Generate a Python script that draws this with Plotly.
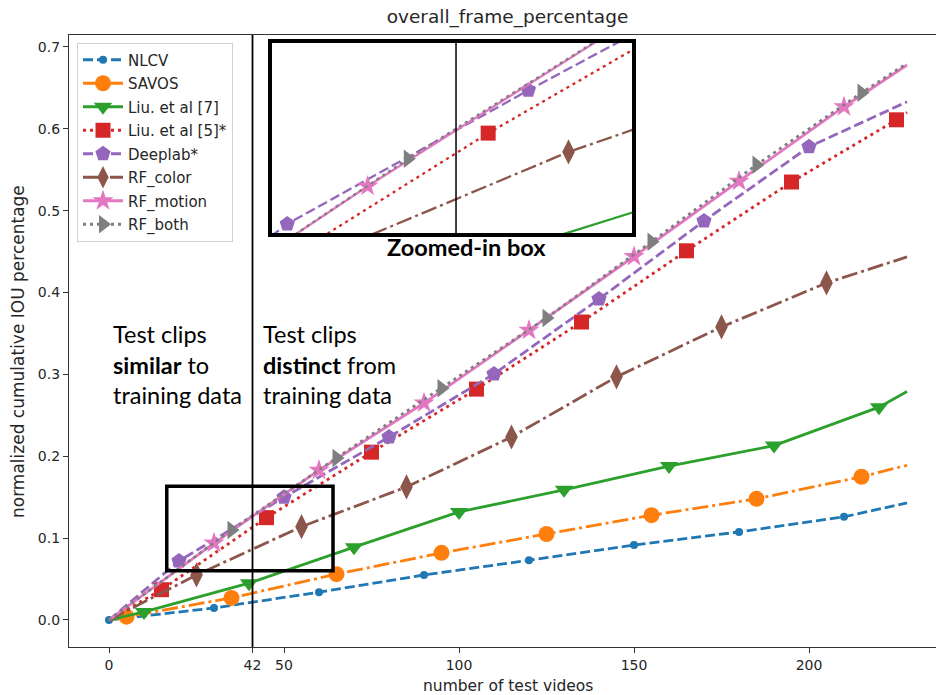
import plotly.graph_objects as go

# ---------------- data ----------------
series_names = ["NLCV", "SAVOS", "Liu. et al [7]", "Liu. et al [5]*", "Deeplab*",
                "RF_color", "RF_motion", "RF_both"]

nlcv_x = [0, 30, 60, 90, 120, 150, 180, 210, 228]
nlcv_y = [0, 0.0147, 0.034, 0.055, 0.073, 0.0916, 0.1075, 0.126, 0.143]
nlcv_mk = [0, 1, 2, 3, 4, 5, 6, 7]

savos_x = [0, 5, 35, 65, 95, 125, 155, 185, 215, 228]
savos_y = [0, 0.004, 0.027, 0.056, 0.082, 0.105, 0.128, 0.148, 0.175, 0.189]
savos_mk = [1, 2, 3, 4, 5, 6, 7, 8]

liu7_x = [0, 10, 40, 70, 100, 130, 160, 190, 220, 228]
liu7_y = [0, 0.0098, 0.045, 0.089, 0.132, 0.159, 0.188, 0.213, 0.26, 0.279]
liu7_mk = [1, 2, 3, 4, 5, 6, 7, 8]

liu5_x = [0, 15, 45, 75, 105, 135, 165, 195, 225, 228]
liu5_y = [0, 0.037, 0.125, 0.205, 0.282, 0.364, 0.451, 0.535, 0.611, 0.62]
liu5_mk = [1, 2, 3, 4, 5, 6, 7, 8]

deeplab_x = [0, 20, 50, 80, 110, 140, 170, 200, 228]
deeplab_y = [0, 0.072, 0.15, 0.2235, 0.3005, 0.392, 0.4875, 0.578, 0.633]
deeplab_mk = [1, 2, 3, 4, 5, 6, 7]

rfcolor_x = [0, 25, 55, 85, 115, 145, 175, 205, 228]
rfcolor_y = [0, 0.055, 0.114, 0.1625, 0.2235, 0.297, 0.358, 0.4117, 0.4435]
rfcolor_mk = [1, 2, 3, 4, 5, 6, 7]

rfmotion_x = [0, 30, 60, 90, 120, 150, 180, 210, 228]
rfmotion_y = [0, 0.094, 0.183, 0.265, 0.354, 0.444, 0.536, 0.627, 0.678]
rfmotion_mk = [1, 2, 3, 4, 5, 6, 7]

rfboth_x = [0, 35, 65, 95, 125, 155, 185, 215, 228]
rfboth_y = [0, 0.110, 0.198, 0.283, 0.369, 0.462, 0.556, 0.644, 0.68]
rfboth_mk = [1, 2, 3, 4, 5, 6, 7]

split_x = 41          # vertical split line (labelled "42" on the axis)
x_tick_vals = [0, split_x, 50, 100, 150, 200]
x_tick_text = ["0", "42", "50", "100", "150", "200"]
y_tick_vals = [0.0, 0.1, 0.2, 0.3, 0.4, 0.5, 0.6, 0.7]

# zoom box region (data units) and inset view
box_x = [16.5, 64.0]
box_y = [0.0600, 0.1635]
inset_x = [18.1, 62.9]
inset_y = [0.0667, 0.1776]

# ---------------- styles ----------------
styles = [
    dict(color="#1f77b4", dash="10px,4px", symbol="circle", size=8),
    dict(color="#ff7f0e", dash="16px,4px,3px,4px", symbol="circle", size=16),
    dict(color="#2ca02c", dash="solid", symbol="triangle-down", size=16),
    dict(color="#d62728", dash="3px,4px", symbol="square", size=15),
    dict(color="#9467bd", dash="10px,4px", symbol="pentagon", size=16),
    dict(color="#8c564b", dash="16px,4px,3px,4px", symbol="diamond-tall", size=18),
    dict(color="#e377c2", dash="solid", symbol="star", size=16),
    dict(color="#7f7f7f", dash="3px,4px", symbol="triangle-right", size=16),
]

data = [
    (nlcv_x, nlcv_y, nlcv_mk),
    (savos_x, savos_y, savos_mk),
    (liu7_x, liu7_y, liu7_mk),
    (liu5_x, liu5_y, liu5_mk),
    (deeplab_x, deeplab_y, deeplab_mk),
    (rfcolor_x, rfcolor_y, rfcolor_mk),
    (rfmotion_x, rfmotion_y, rfmotion_mk),
    (rfboth_x, rfboth_y, rfboth_mk),
]

W, H = 936, 695
ML, MR, MT, MB = 69, 0, 35, 48
PW, PH = W - ML - MR, H - MT - MB


def pxx(p):
    return (p - ML) / PW


def pxy(p):
    return (H - MB - p) / PH


fig = go.Figure()

for (xs, ys, mk), st, name in zip(data, styles, series_names):
    mx = [xs[i] for i in mk]
    my = [ys[i] for i in mk]
    for xa, ya, lw in (("x", "y", 2.8), ("x2", "y2", 2.3)):
        fig.add_trace(go.Scatter(x=xs, y=ys, mode="lines", xaxis=xa, yaxis=ya,
                                 line=dict(color=st["color"], width=lw, dash=st["dash"]),
                                 showlegend=False, hoverinfo="skip"))
        fig.add_trace(go.Scatter(x=mx, y=my, mode="markers", xaxis=xa, yaxis=ya,
                                 marker=dict(color=st["color"], symbol=st["symbol"],
                                             size=st["size"], line=dict(width=0)),
                                 showlegend=False, hoverinfo="skip"))

# legend entries
for st, name in zip(styles, series_names):
    fig.add_trace(go.Scatter(x=[None], y=[None], mode="lines+markers", name=name,
                             legendgroup=name,
                             line=dict(color=st["color"], width=2.8, dash=st["dash"]),
                             marker=dict(color=st["color"], symbol=st["symbol"],
                                         size=st["size"])))

axis_col = "#333333"
tick_font = dict(family="DejaVu Sans", size=14, color="#262626")

fig.update_layout(
    width=W, height=H,
    margin=dict(l=ML, r=MR, t=MT, b=MB, pad=0),
    paper_bgcolor="white", plot_bgcolor="white",
    title=dict(text="overall_frame_percentage", x=507.5 / W, xref="container",
               xanchor="center", y=1 - 17 / H, yanchor="middle",
               font=dict(family="DejaVu Sans", size=18.5, color="#262626")),
    xaxis=dict(range=[-11.43, (W - MR - ML) / 3.5 - 11.43], showgrid=False, zeroline=False,
               showline=True, linecolor=axis_col, linewidth=1.2, mirror=True,
               ticks="outside", ticklen=5, tickwidth=1, tickcolor=axis_col,
               tickvals=x_tick_vals, ticktext=x_tick_text, tickfont=tick_font,
               automargin=False),
    yaxis=dict(range=[-0.033, 0.7146], showgrid=False, zeroline=False,
               showline=True, linecolor=axis_col, linewidth=1.2, mirror=False,
               ticks="outside", ticklen=5, tickwidth=1, tickcolor=axis_col,
               tickvals=y_tick_vals, tickformat=".1f", tickfont=tick_font,
               automargin=False),
    xaxis2=dict(domain=[pxx(272), pxx(632)], anchor="y2", range=inset_x,
                showgrid=False, zeroline=False, showticklabels=False, ticks="",
                showline=True, linecolor="black", linewidth=4, mirror=True),
    yaxis2=dict(domain=[pxy(233), pxy(43)], anchor="x2", range=inset_y,
                showgrid=False, zeroline=False, showticklabels=False, ticks="",
                showline=True, linecolor="black", linewidth=4, mirror=True),
    legend=dict(x=pxx(77), y=pxy(42.5), xanchor="left", yanchor="top",
                bgcolor="white", bordercolor="#d0d0d0", borderwidth=1,
                font=dict(family="DejaVu Sans", size=15, color="#262626"),
                itemwidth=40, tracegroupgap=1, traceorder="grouped"),
    showlegend=True,
)

# split lines
fig.add_shape(type="line", xref="x", yref="y domain", x0=split_x, x1=split_x, y0=0, y1=1,
              line=dict(color="black", width=1.8))
fig.add_shape(type="line", xref="x2", yref="y2 domain", x0=split_x, x1=split_x, y0=0, y1=1,
              line=dict(color="black", width=1.5))
# zoom box
fig.add_shape(type="rect", xref="x", yref="y", x0=box_x[0], x1=box_x[1], y0=box_y[0], y1=box_y[1],
              line=dict(color="black", width=3.5), fillcolor="rgba(0,0,0,0)")

txt_font = dict(family="Lato", size=23.5, color="black")
fig.add_annotation(xref="paper", yref="paper", x=pxx(111), y=pxy(364), xanchor="left",
                   yanchor="middle", align="left", showarrow=False, font=txt_font,
                   text="Test clips<br><b>similar</b> to<br>training data")
fig.add_annotation(xref="paper", yref="paper", x=pxx(261), y=pxy(364), xanchor="left",
                   yanchor="middle", align="left", showarrow=False, font=txt_font,
                   text="Test clips<br><b>distinct</b> from<br>training data")
fig.add_annotation(xref="paper", yref="paper", x=pxx(466), y=pxy(247), xanchor="center",
                   yanchor="middle", showarrow=False, font=txt_font,
                   text="<b>Zoomed-in box</b>")

# axis titles
lab_font = dict(family="DejaVu Sans", size=15.5, color="#262626")
fig.add_annotation(xref="paper", yref="paper", x=pxx(508), y=pxy(686), xanchor="center",
                   yanchor="middle", showarrow=False, font=lab_font,
                   text="number of test videos")
fig.add_annotation(xref="paper", yref="paper", x=pxx(18), y=pxy(352), xanchor="center",
                   yanchor="middle", showarrow=False, textangle=-90,
                   font=dict(family="DejaVu Sans", size=17, color="#262626"),
                   text="normalized cumulative IOU percentage")

fig.write_html("out.html")
